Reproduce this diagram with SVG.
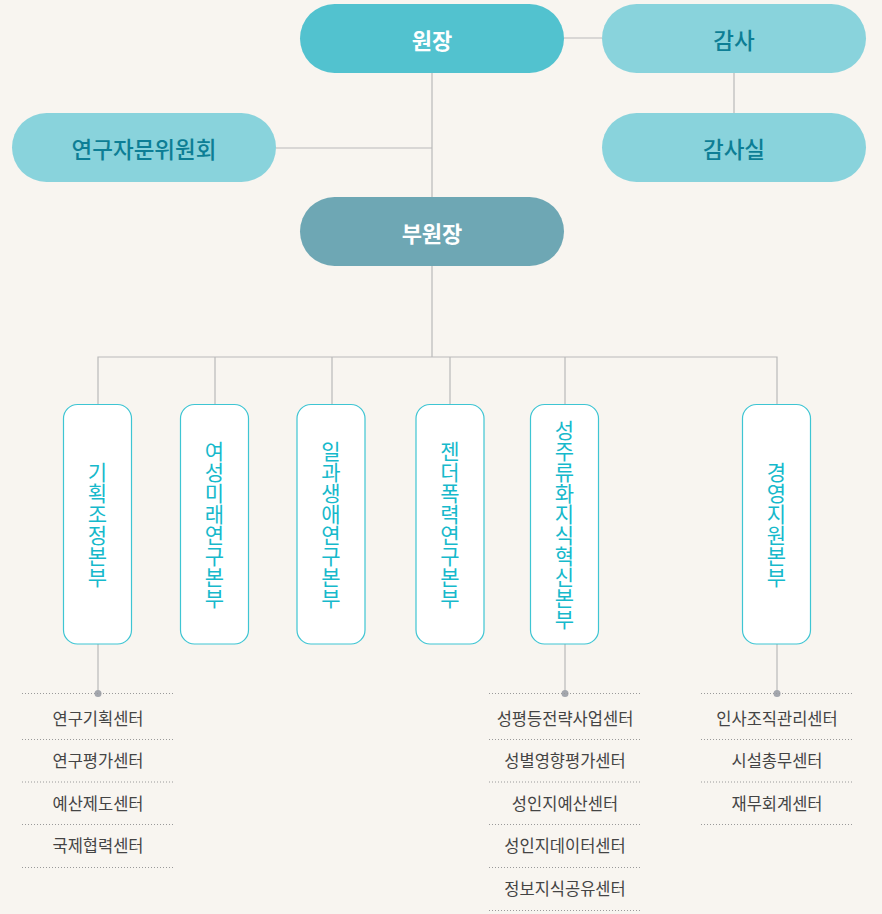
<svg xmlns="http://www.w3.org/2000/svg" width="882" height="914" viewBox="0 0 882 914">
<style>
.bg{fill:#f8f5f0}
.ln{stroke:#b9b9b9;stroke-width:1.2;fill:none}
.dot{stroke:#9a9a9a;stroke-width:1;stroke-dasharray:1 2;fill:none}
.pillA{fill:#52c2cf}
.pillB{fill:#89d3dc}
.pillC{fill:#6ea7b4}
.tW{font-family:"Noto Sans CJK KR","Noto Sans",sans-serif;font-size:22px;font-weight:700;fill:#ffffff;text-anchor:middle;dominant-baseline:central}
.tD{font-family:"Noto Sans CJK KR","Noto Sans",sans-serif;font-size:22.5px;font-weight:500;fill:#0d7e95;text-anchor:middle;dominant-baseline:central}
.box{fill:#ffffff;stroke:#3ec5d3;stroke-width:1.2}
.tV{font-family:"Noto Sans CJK KR","Noto Sans",sans-serif;font-size:21px;font-weight:400;fill:#16b9cb;text-anchor:middle;writing-mode:vertical-rl;text-orientation:upright}
.tL{font-family:"Noto Sans CJK KR","Noto Sans",sans-serif;font-size:16.5px;font-weight:400;fill:#444444;text-anchor:middle;dominant-baseline:central}
.nd{fill:#a3a6ad}
</style>
<rect class="bg" x="0" y="0" width="882" height="914"/>
<g id="connectors">
<line class="ln" x1="432" y1="72" x2="432" y2="197"/>
<line class="ln" x1="276" y1="148" x2="432" y2="148"/>
<line class="ln" x1="564" y1="38" x2="602" y2="38"/>
<line class="ln" x1="734" y1="72" x2="734" y2="113"/>
<line class="ln" x1="432" y1="265" x2="432" y2="357"/>
<polyline class="ln" points="98,404 98,357 777,357 777,404"/>
<line class="ln" x1="215" y1="357" x2="215" y2="404"/>
<line class="ln" x1="332" y1="357" x2="332" y2="404"/>
<line class="ln" x1="450" y1="357" x2="450" y2="404"/>
<line class="ln" x1="565" y1="357" x2="565" y2="404"/>
<line class="ln" x1="98" y1="644" x2="98" y2="693"/>
<line class="ln" x1="565" y1="644" x2="565" y2="693"/>
<line class="ln" x1="777" y1="644" x2="777" y2="693"/>
<circle class="nd" cx="98" cy="693.5" r="3.5"/>
<circle class="nd" cx="565" cy="693.5" r="3.5"/>
<circle class="nd" cx="777" cy="693.5" r="3.5"/>
</g>
<g id="n-wonjang"><rect class="pillA" x="300" y="4" width="264" height="69" rx="34.5"/><text class="tW" x="432" y="38.5">원장</text></g>
<g id="n-gamsa"><rect class="pillB" x="602" y="4" width="264" height="69" rx="34.5"/><text class="tD" x="734" y="38.5">감사</text></g>
<g id="n-gamsasil"><rect class="pillB" x="602" y="113" width="264" height="69" rx="34.5"/><text class="tD" x="734" y="147.5">감사실</text></g>
<g id="n-jamun"><rect class="pillB" x="12" y="113" width="264" height="69" rx="34.5"/><text class="tD" x="144" y="147.5">연구자문위원회</text></g>
<g id="n-buwonjang"><rect class="pillC" x="300" y="197" width="264" height="69" rx="34.5"/><text class="tW" x="432" y="231.5">부원장</text></g>
<g id="d1"><rect class="box" x="63.5" y="404.5" width="68" height="239.5" rx="14"/><text class="tV" x="97.5" y="524.5">기획조정본부</text></g>
<g id="d2"><rect class="box" x="180.5" y="404.5" width="68" height="239.5" rx="14"/><text class="tV" x="214.5" y="524.5">여성미래연구본부</text></g>
<g id="d3"><rect class="box" x="297" y="404.5" width="68" height="239.5" rx="14"/><text class="tV" x="331" y="524.5">일과생애연구본부</text></g>
<g id="d4"><rect class="box" x="416" y="404.5" width="68" height="239.5" rx="14"/><text class="tV" x="450" y="524.5">젠더폭력연구본부</text></g>
<g id="d5"><rect class="box" x="530.5" y="404.5" width="68" height="239.5" rx="14"/><text class="tV" x="564.5" y="524.5">성주류화지식혁신본부</text></g>
<g id="d6"><rect class="box" x="742.5" y="404.5" width="68" height="239.5" rx="14"/><text class="tV" x="776.5" y="524.5">경영지원본부</text></g>
<g id="list1">
<line class="dot" x1="22" y1="693.5" x2="174" y2="693.5"/>
<line class="dot" x1="22" y1="739.5" x2="174" y2="739.5"/>
<line class="dot" x1="22" y1="782" x2="174" y2="782"/>
<line class="dot" x1="22" y1="824.5" x2="174" y2="824.5"/>
<line class="dot" x1="22" y1="867.5" x2="174" y2="867.5"/>
<text class="tL" x="98" y="718">연구기획센터</text>
<text class="tL" x="98" y="760">연구평가센터</text>
<text class="tL" x="98" y="803">예산제도센터</text>
<text class="tL" x="98" y="845">국제협력센터</text>
</g>
<g id="list5">
<line class="dot" x1="489" y1="693.5" x2="641" y2="693.5"/>
<line class="dot" x1="489" y1="739.5" x2="641" y2="739.5"/>
<line class="dot" x1="489" y1="782" x2="641" y2="782"/>
<line class="dot" x1="489" y1="824.5" x2="641" y2="824.5"/>
<line class="dot" x1="489" y1="867.5" x2="641" y2="867.5"/>
<line class="dot" x1="489" y1="910.5" x2="641" y2="910.5"/>
<text class="tL" x="565" y="718">성평등전략사업센터</text>
<text class="tL" x="565" y="760">성별영향평가센터</text>
<text class="tL" x="565" y="803">성인지예산센터</text>
<text class="tL" x="565" y="845">성인지데이터센터</text>
<text class="tL" x="565" y="888">정보지식공유센터</text>
</g>
<g id="list6">
<line class="dot" x1="701" y1="693.5" x2="854" y2="693.5"/>
<line class="dot" x1="701" y1="739.5" x2="854" y2="739.5"/>
<line class="dot" x1="701" y1="782" x2="854" y2="782"/>
<line class="dot" x1="701" y1="824.5" x2="854" y2="824.5"/>
<text class="tL" x="777" y="718">인사조직관리센터</text>
<text class="tL" x="777" y="760">시설총무센터</text>
<text class="tL" x="777" y="803">재무회계센터</text>
</g>
</svg>
